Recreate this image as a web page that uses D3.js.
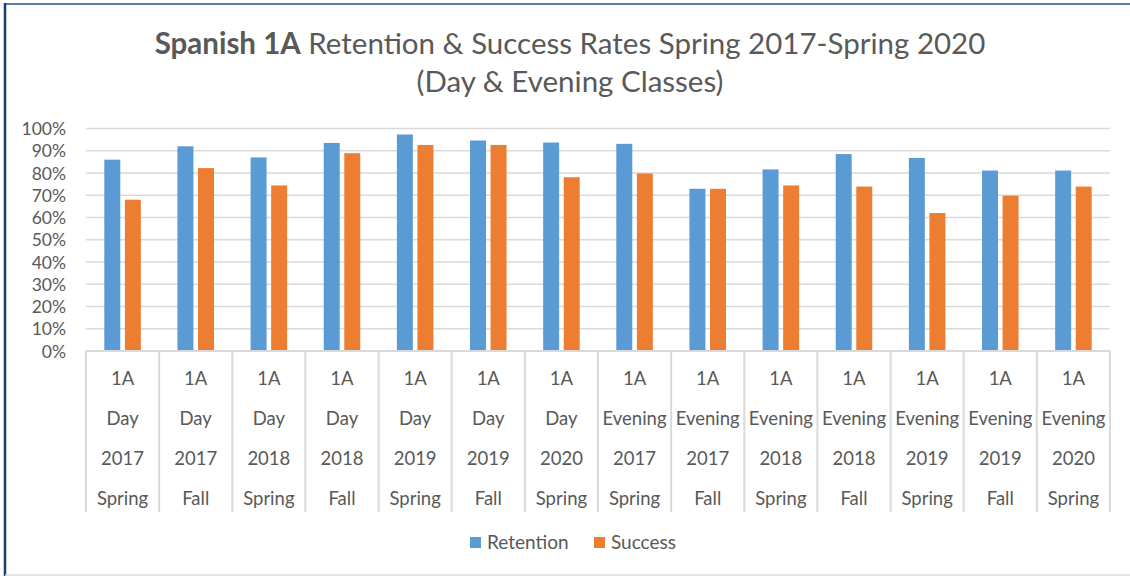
<!DOCTYPE html>
<html>
<head>
<meta charset="utf-8">
<script src="https://cdn.jsdelivr.net/npm/d3@7"></script>
<style>
  html, body { margin: 0; padding: 0; background: #fff; }
  svg { display: block; font-family: Lato, "Open Sans", sans-serif; }
</style>
</head>
<body>
<svg id="chart" width="1130" height="576"></svg>
<script>
// ---- data ----
const categories = [
  ["1A", "Day", "2017", "Spring"],
  ["1A", "Day", "2017", "Fall"],
  ["1A", "Day", "2018", "Spring"],
  ["1A", "Day", "2018", "Fall"],
  ["1A", "Day", "2019", "Spring"],
  ["1A", "Day", "2019", "Fall"],
  ["1A", "Day", "2020", "Spring"],
  ["1A", "Evening", "2017", "Spring"],
  ["1A", "Evening", "2017", "Fall"],
  ["1A", "Evening", "2018", "Spring"],
  ["1A", "Evening", "2018", "Fall"],
  ["1A", "Evening", "2019", "Spring"],
  ["1A", "Evening", "2019", "Fall"],
  ["1A", "Evening", "2020", "Spring"]
];
const seriesNames = ["Retention", "Success"];
const retention = [0.86, 0.92, 0.87, 0.935, 0.973, 0.946, 0.937, 0.931, 0.729, 0.816, 0.885, 0.868, 0.811, 0.811];
const success   = [0.68, 0.822, 0.744, 0.889, 0.926, 0.926, 0.781, 0.798, 0.729, 0.744, 0.739, 0.62, 0.698, 0.739];
const yTicks = [0, 0.1, 0.2, 0.3, 0.4, 0.5, 0.6, 0.7, 0.8, 0.9, 1.0];
const colors = ["#5B9BD5", "#ED7D31"];

const svg = d3.select("#chart");
const W = 1130, H = 576;
const plot = { left: 86, right: 1110, top: 128.5, bottom: 351 };
const textColor = "#595959";
const gridColor = "#d9d9d9";

// border
svg.append("line").attr("x1", 4).attr("x2", W).attr("y1", 4).attr("y2", 4)
  .attr("stroke", "#5a7bab").attr("stroke-width", 2);
svg.append("line").attr("x1", 5).attr("x2", 5).attr("y1", 3).attr("y2", H)
  .attr("stroke", "#1f3a78").attr("stroke-width", 2.5);
svg.append("line").attr("x1", 5).attr("x2", W).attr("y1", 575).attr("y2", 575)
  .attr("stroke", "#dcdce8").attr("stroke-width", 1.5);

// title
const title = svg.append("text").attr("x", 570).attr("y", 54)
  .attr("text-anchor", "middle").attr("fill", textColor).attr("font-size", 29.5);
title.append("tspan").attr("font-weight", "bold").text("Spanish 1A");
title.append("tspan").text(" Retention & Success Rates Spring 2017-Spring 2020");
svg.append("text").attr("x", 570).attr("y", 92)
  .attr("text-anchor", "middle").attr("fill", textColor).attr("font-size", 29.5)
  .text("(Day & Evening Classes)");

// scales
const x0 = d3.scaleBand().domain(d3.range(categories.length))
  .range([plot.left, plot.right]).paddingInner(0).paddingOuter(0);
const x1 = d3.scaleBand().domain(seriesNames)
  .range([0, x0.bandwidth()]).paddingInner(0.223).paddingOuter(0.89);
const y = d3.scaleLinear().domain([0, 1]).range([plot.bottom, plot.top]);

// gridlines
svg.append("g").selectAll("line").data(yTicks.filter(d => d > 0)).join("line")
  .attr("x1", plot.left).attr("x2", plot.right)
  .attr("y1", d => y(d)).attr("y2", d => y(d))
  .attr("stroke", gridColor).attr("stroke-width", 1.5);

// y axis labels
const yAxis = d3.axisLeft(y).tickValues(yTicks).tickFormat(d3.format(".0%")).tickSize(0).tickPadding(0);
const yg = svg.append("g").attr("transform", `translate(${66},0)`).call(yAxis);
yg.select(".domain").remove();
yg.selectAll("text").attr("fill", textColor).attr("font-size", 17.5)
  .attr("font-family", "Lato, sans-serif").attr("dy", "0.35em");

// bars
const data = categories.map((c, i) => ({ i, vals: [retention[i], success[i]] }));
const groups = svg.append("g").selectAll("g").data(data).join("g")
  .attr("transform", d => `translate(${x0(d.i)},0)`);
groups.selectAll("rect").data(d => d.vals.map((v, k) => ({ k, v }))).join("rect")
  .attr("x", d => x1(seriesNames[d.k]))
  .attr("width", x1.bandwidth())
  .attr("y", d => y(d.v))
  .attr("height", d => y(0) - y(d.v))
  .attr("fill", d => colors[d.k]);

// x axis line and category dividers
svg.append("line").attr("x1", plot.left).attr("x2", plot.right)
  .attr("y1", plot.bottom).attr("y2", plot.bottom)
  .attr("stroke", gridColor).attr("stroke-width", 2);
const divX = d3.range(categories.length + 1).map(i => i < categories.length ? x0(i) : plot.right);
svg.append("g").selectAll("line").data(divX).join("line")
  .attr("x1", d => d).attr("x2", d => d)
  .attr("y1", plot.bottom).attr("y2", 512)
  .attr("stroke", gridColor).attr("stroke-width", 2);

// x labels
const xl = svg.append("g").selectAll("text").data(categories).join("text")
  .attr("fill", textColor).attr("font-size", 18.5).attr("text-anchor", "middle");
xl.each(function(c, i) {
  const t = d3.select(this);
  c.forEach((line, j) => {
    t.append("tspan").attr("x", x0(i) + x0.bandwidth() / 2).attr("y", 385 + j * 40).text(line);
  });
});

// legend
const legend = svg.append("g");
const legItems = [{ name: "Retention", x: 470 }, { name: "Success", x: 594 }];
legItems.forEach((d, k) => {
  legend.append("rect").attr("x", d.x).attr("y", 537).attr("width", 11).attr("height", 11).attr("fill", colors[k]);
  legend.append("text").attr("x", d.x + 17).attr("y", 549).attr("fill", textColor)
    .attr("font-size", 19).text(d.name);
});
</script>
</body>
</html>
